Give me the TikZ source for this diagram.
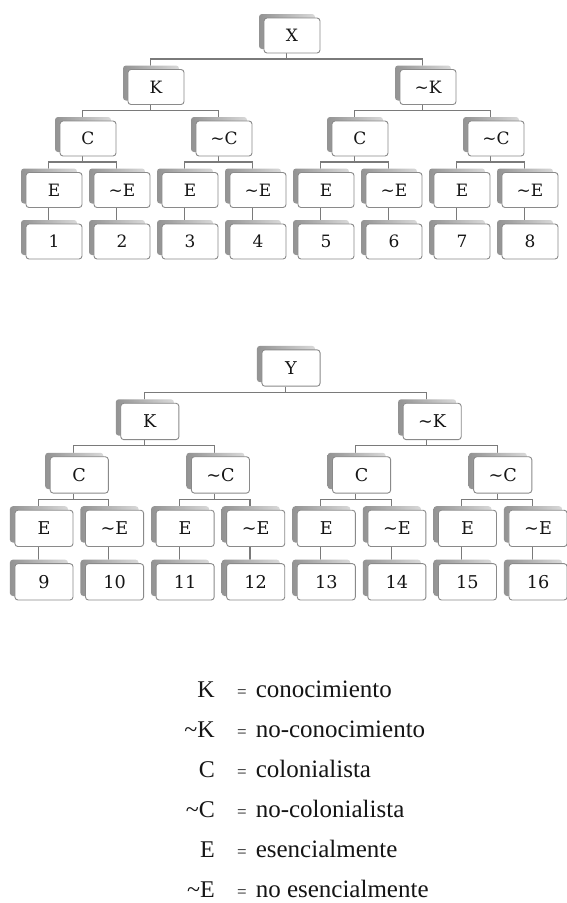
\documentclass[tikz,border=0pt]{standalone}
\usepackage{fontspec}
\newfontfamily\boxfont{DejaVu Serif}
\newfontfamily\legfont{Liberation Serif}
\usetikzlibrary{shadows,backgrounds}
\definecolor{boxline}{HTML}{8A8A8A}
\definecolor{linkgray}{HTML}{7A7A7A}
\definecolor{inkc}{HTML}{151515}
\tikzset{
  box/.style={draw=boxline, line width=0.9pt, fill=white, rounded corners=3pt,
    minimum width=56pt, minimum height=35pt, inner sep=0pt,
    font=\boxfont\fontsize{17}{17}\selectfont, text=inkc,
    copy shadow={shadow xshift=-5pt, shadow yshift=4pt, draw=none,
      left color=gray!85, right color=gray!30}},
  link/.style={draw=linkgray, line width=1.1pt},
  sym/.style={anchor=base east, inner sep=0pt, text=inkc, font=\legfont\fontsize{24}{24}\selectfont},
  defn/.style={anchor=base west, inner sep=0pt, text=inkc, font=\legfont\fontsize{25}{25}\selectfont},
}
\newcommand{\eqs}{{\fontsize{17}{17}\selectfont =}\hspace{9pt}}
\newcommand{\tl}{\textasciitilde}
% #1 prefix, #2 root label, #3 first leaf number
\newcommand{\mytree}[3]{%
  \node[box] (#1r) at (0,0) {#2};
  \node[box] (#1k) at (-136,-51.5) {K};
  \node[box] (#1nk) at (136,-51.5) {\tl K};
  \node[box] (#1c1) at (-204,-103) {C};
  \node[box] (#1c2) at (-68,-103) {\tl C};
  \node[box] (#1c3) at (68,-103) {C};
  \node[box] (#1c4) at (204,-103) {\tl C};
  \foreach \i in {0,...,7}{
    \pgfmathtruncatemacro{\lab}{#3+\i}
    \pgfmathtruncatemacro{\isodd}{mod(\i,2)}
    \ifnum\isodd=0
      \node[box] (#1e\i) at (-238+68*\i,-154.5) {E};
    \else
      \node[box] (#1e\i) at (-238+68*\i,-154.5) {\tl E};
    \fi
    \node[box] (#1n\i) at (-238+68*\i,-206) {\lab};
  }
  \begin{pgfonlayer}{background}
    \foreach \p/\c in {r/k, r/nk, k/c1, k/c2, nk/c3, nk/c4,
                       c1/e0, c1/e1, c2/e2, c2/e3, c3/e4, c3/e5, c4/e6, c4/e7}{
      \draw[link] ([xshift=-5.5pt]#1\p.south) -- ++(0,-5.5pt) -| ([xshift=-5.5pt]#1\c.north);
    }
    \foreach \i in {0,...,7}{
      \draw[link] ([xshift=-5.5pt]#1e\i.south) -- ([xshift=-5.5pt]#1n\i.north);
    }
  \end{pgfonlayer}
}
\begin{document}
\begin{tikzpicture}[x=1pt,y=1pt]
  \begin{pgfonlayer}{background}
    \fill[white] (0,0) rectangle (566,-903);
  \end{pgfonlayer}
  \useasboundingbox (0,0) rectangle (566,-903);
  \begin{scope}[shift={(292,-35.5)}]
    \mytree{a}{X}{1}
  \end{scope}
  \begin{scope}[shift={(291,-368)}, scale=1.038, transform shape]
    \mytree{b}{Y}{9}
  \end{scope}
  % legend
  \node[sym] (s1) at (215,-697) {K};
  \node[defn] (d1) at (237,-697) {\eqs conocimiento};
  \node[sym] (s2) at (215,-737) {\tl K};
  \node[defn] (d2) at (237,-737) {\eqs no-conocimiento};
  \node[sym] (s3) at (215,-777) {C};
  \node[defn] (d3) at (237,-777) {\eqs colonialista};
  \node[sym] (s4) at (215,-817) {\tl C};
  \node[defn] (d4) at (237,-817) {\eqs no-colonialista};
  \node[sym] (s5) at (215,-857) {E};
  \node[defn] (d5) at (237,-857) {\eqs esencialmente};
  \node[sym] (s6) at (215,-897) {\tl E};
  \node[defn] (d6) at (237,-897) {\eqs no esencialmente};
\end{tikzpicture}
\end{document}
